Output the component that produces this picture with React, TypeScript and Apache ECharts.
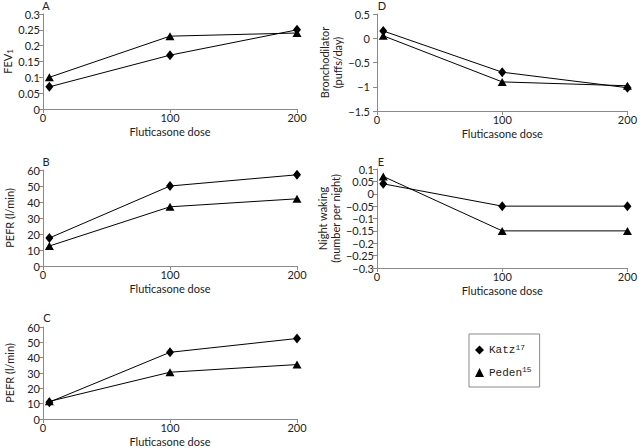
import React, { useEffect, useRef } from "react";
import * as echarts from "echarts";

const doses = [5, 100, 200];
const xTicks = [0, 100, 200];
const katzFEV1 = [0.07, 0.17, 0.25];
const pedenFEV1 = [0.1, 0.23, 0.24];
const katzPEFR_B = [17.5, 50, 57];
const pedenPEFR_B = [12.5, 37, 42];
const katzPEFR_C = [11, 43.5, 52.5];
const pedenPEFR_C = [11.5, 30.5, 35.5];
const katzBronch = [0.15, -0.7, -1.02];
const pedenBronch = [0.05, -0.9, -0.98];
const bronchTicks = [-1.5, -1, -0.5, 0, 0.5];
const katzNight = [0.04, -0.05, -0.05];
const pedenNight = [0.07, -0.15, -0.15];
const panelLabels = ["A", "B", "C", "D", "E"];
const seriesNames = ["Katz", "Peden"];
const refs: Record<string, string> = { Katz: "17", Peden: "15" };

const FONT = "Lato";
const AXIS_GRAY = "#8a8a8a";

export default function App() {
  const ref = useRef<HTMLDivElement>(null);
  useEffect(() => {
    if (!ref.current) return;
    const chart = echarts.init(ref.current, null, { renderer: "svg" });

    const grids = [
      { left: 43, top: 14, width: 254, height: 95 },
      { left: 43, top: 170, width: 254, height: 96 },
      { left: 43, top: 327, width: 254, height: 95 },
      { left: 377, top: 14, width: 254, height: 97 },
      { left: 377, top: 169, width: 255, height: 99 },
    ];
    const yCfg = [
      { min: 0, max: 0.3, interval: 0.05, name: "FEV{sub|1}", gap: 27 },
      { min: 0, max: 60, interval: 10, name: "PEFR (l/min)", gap: 27 },
      { min: 0, max: 60, interval: 10, name: "PEFR (l/min)", gap: 27 },
      { min: bronchTicks[0], max: bronchTicks[bronchTicks.length - 1], interval: 0.5, name: "Bronchodilator\n(puffs/day)", gap: 33 },
      { min: -0.3, max: 0.1, interval: 0.05, name: "Night waking\n(number per night)", gap: 33 },
    ];
    const data = [
      [katzFEV1, pedenFEV1],
      [katzPEFR_B, pedenPEFR_B],
      [katzPEFR_C, pedenPEFR_C],
      [katzBronch, pedenBronch],
      [katzNight, pedenNight],
    ];
    const fmt = (v: number) => String(parseFloat(v.toFixed(3))).replace("-", "\u2212");

    const mkLine = () => ({ show: true, onZero: false, lineStyle: { color: AXIS_GRAY, width: 1 } });
    const mkTick = () => ({ show: true, length: 4, lineStyle: { color: AXIS_GRAY } });

    const xAxis = grids.map((_, i) => ({
      type: "value",
      gridIndex: i,
      min: xTicks[0],
      max: xTicks[xTicks.length - 1],
      interval: 100,
      name: "Fluticasone dose",
      nameLocation: "middle",
      nameGap: 17,
      nameTextStyle: { fontFamily: FONT, fontSize: 11, color: "#222" },
      axisLine: mkLine(),
      axisTick: mkTick(),
      splitLine: { show: false },
      axisLabel: { fontFamily: FONT, fontSize: 11, color: "#222", margin: 3 },
    }));
    const yAxis = yCfg.map((c, i) => {
      const nts: any = { fontFamily: FONT, fontSize: 11, color: "#222", lineHeight: 13 };
      if (i === 0) {
        nts.rich = { sub: { fontFamily: FONT, fontSize: 8, verticalAlign: "bottom", padding: [6, 0, 0, 0], color: "#222" } };
      }
      return {
        type: "value",
        gridIndex: i,
        min: c.min,
        max: c.max,
        interval: c.interval,
        name: c.name,
        nameLocation: "middle",
        nameRotate: 90,
        nameGap: c.gap,
        nameTextStyle: nts,
        axisLine: mkLine(),
        axisTick: mkTick(),
        splitLine: { show: false },
        axisLabel: { show: i !== 3, fontFamily: FONT, fontSize: 11, color: "#222", margin: 3, formatter: fmt },
      };
    });

    const series: any[] = [];
    data.forEach((pair, i) => {
      pair.forEach((vals, j) => {
        series.push({
          type: "line",
          name: seriesNames[j],
          xAxisIndex: i,
          yAxisIndex: i,
          data: doses.map((d, k) => [d, vals[k]]),
          symbol: j === 0 ? "diamond" : "triangle",
          symbolSize: j === 0 ? [8, 10] : [9, 8],
          lineStyle: { color: "#000", width: 1 },
          itemStyle: { color: "#000" },
          z: j === 0 ? 3 : 2,
        });
      });
    });

    const labelPos = [
      [46, 5],
      [46, 161],
      [47, 317],
      [382, 5],
      [381, 161],
    ];
    const graphic: any[] = panelLabels.map((t, i) => ({
      type: "text",
      x: labelPos[i][0],
      y: labelPos[i][1],
      style: {
        text: t,
        fontFamily: FONT,
        fontSize: 11,
        fill: "#222",
        align: "center",
        verticalAlign: "middle",
      },
    }));

    chart.setOption({
      animation: false,
      backgroundColor: "#fff",
      grid: grids,
      xAxis,
      yAxis,
      series,
      graphic,
      legend: {
        left: 469,
        top: 334,
        orient: "vertical",
        data: seriesNames.map((n, j) => ({ name: n, icon: j === 0 ? "diamond" : "triangle" })),
        itemWidth: 9,
        itemHeight: 9,
        itemGap: 10,
        padding: [9, 8, 9, 6],
        borderColor: AXIS_GRAY,
        borderWidth: 1,
        selectedMode: false,
        formatter: (n: string) => `{t|${n}}{s|${refs[n]}}`,
        textStyle: {
          rich: {
            t: { fontFamily: "Liberation Mono", fontSize: 11, color: "#222" },
            s: { fontFamily: "Liberation Mono", fontSize: 8, color: "#222", verticalAlign: "top", padding: [0, 0, 6, 0] },
          },
        },
      },
    });

    // Panel D tick labels placed through the library's own scale
    const dLabels = bronchTicks.map((v, k) => {
      const p = chart.convertToPixel({ xAxisIndex: 3, yAxisIndex: 3 }, [0, v]) as number[];
      return {
        id: "dlab" + k,
        type: "text",
        x: p[0] - 7,
        y: p[1],
        style: {
          text: fmt(v),
          fontFamily: FONT,
          fontSize: 11,
          fill: "#222",
          align: "right",
          verticalAlign: "middle",
        },
      };
    });
    chart.setOption({ graphic: graphic.concat(dLabels) });
    return () => chart.dispose();
  }, []);
  return (
    <div
      ref={ref}
      style={{ position: "absolute", left: 0, top: 0, width: 640, height: 448, background: "#fff" }}
    />
  );
}
